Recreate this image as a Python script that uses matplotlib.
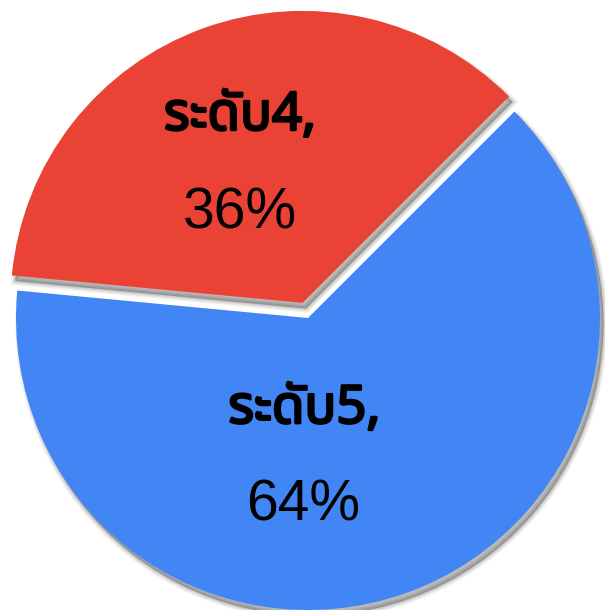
import numpy as np
import matplotlib; matplotlib.use("Agg")
import matplotlib.pyplot as plt
import matplotlib.patheffects as pe
from matplotlib import font_manager as fm
from matplotlib.ft2font import FT2Font

labels = ["ระดับ4,", "ระดับ5,"]
values = [36, 64]
colors = ["#EA4335", "#4285F4"]
explode = [0.055, 0.0]

def thai_fonts():
    # installed fonts that carry Thai glyphs (ร = U+0E23): {name: has_bold}
    found = {}
    for f in fm.fontManager.ttflist:
        try:
            if 0x0E23 in FT2Font(f.fname).get_charmap():
                w = f.weight if isinstance(f.weight, int) else fm.weight_dict.get(f.weight, 400)
                found[f.name] = found.get(f.name, False) or w >= 600
        except Exception:
            pass
    return found

TH = thai_fonts()
pref = ["Noto Sans Thai", "Loma", "Tlwg Typist", "Garuda", "Sarabun"]
order = [p for p in pref if p in TH] + sorted(n for n in TH if n not in pref)
th_name = order[0] if order else "DejaVu Sans"
fam_lbl = [th_name, "Liberation Sans", "DejaVu Sans"]
# fake the bold weight with a stroke if the family has no bold face
lbl_fx = [] if TH.get(th_name) else [pe.withStroke(linewidth=1.8, foreground="black")]

fig = plt.figure(figsize=(6.05, 6.10), dpi=100)
ax = fig.add_axes([0, 0, 1, 1])
ax.axis("off")

# soft drop shadow (down-right) built from stacked translucent strokes
shadow = [pe.PathPatchEffect(offset=(2.5, -4.0), facecolor="k", edgecolor="k",
                             linewidth=lw, alpha=0.06) for lw in (6, 4, 2.5, 1.2, 0)]
shadow.append(pe.Normal())

wedges, _ = ax.pie(values, colors=colors, explode=explode, startangle=45,
                   counterclock=True, radius=1.0,
                   wedgeprops=dict(linewidth=0, edgecolor="none"))
for w in wedges:
    w.set_path_effects(shadow)

# pie centre at (308,318) px, radius 292 px in a 605x610 canvas
ax.set_xlim(-308 / 292, (605 - 308) / 292)
ax.set_ylim((318 - 610) / 292, 318 / 292)

# label blocks: name (bold) above percentage
LBL_POS = [(-0.233, 0.644), (-0.012, -0.360)]
PCT_POS = [(-0.233, 0.308), (-0.018, -0.692)]
for name, v, (lx, ly), (px, py) in zip(labels, values, LBL_POS, PCT_POS):
    ax.text(lx, ly, name, ha="center", va="baseline", fontsize=38,
            fontweight="bold", family=fam_lbl, color="black", path_effects=lbl_fx)
    ax.text(px, py, f"{v}%", ha="center", va="baseline", fontsize=41,
            family=["Liberation Sans", "DejaVu Sans"], color="black")

fig.savefig("out.png", dpi=100)
